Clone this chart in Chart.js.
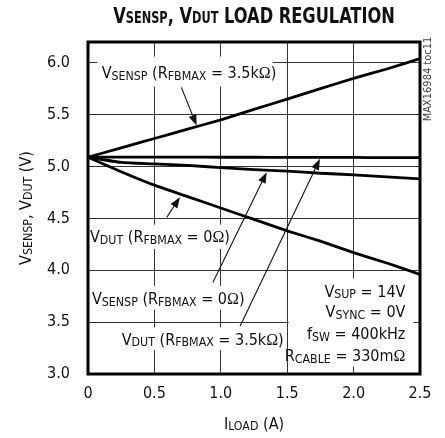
<!DOCTYPE html>
<html>
<head>
<meta charset="utf-8">
<script src="https://cdn.jsdelivr.net/npm/chart.js@4.4.1/dist/chart.umd.min.js"></script>
<style>
body { margin: 0; background: #fff; }
#wrap { width: 445px; height: 438px; }
</style>
</head>
<body>
<div id="wrap"><canvas id="c"></canvas></div>
<script>
// load current (A)
const loadA = [0, 0.25, 0.5, 0.75, 1.0, 1.25, 1.5, 1.75, 2.0, 2.25, 2.5];
// output voltages (V)
const vsenspHigh = [5.09, 5.18, 5.27, 5.36, 5.45, 5.55, 5.65, 5.75, 5.85, 5.94, 6.04];
const vsenspZero = [5.09, 5.09, 5.09, 5.09, 5.089, 5.089, 5.088, 5.088, 5.087, 5.086, 5.085];
const vdutHigh   = [5.09, 5.04, 5.025, 5.01, 4.99, 4.97, 4.955, 4.935, 4.92, 4.90, 4.88];
const vdutZero   = [5.09, 4.95, 4.82, 4.71, 4.60, 4.49, 4.38, 4.28, 4.17, 4.07, 3.96];

const xTicks = [0, 0.5, 1.0, 1.5, 2.0, 2.5];
const yTicks = [3.0, 3.5, 4.0, 4.5, 5.0, 5.5, 6.0];

const conditions = ['V_{SUP} = 14V', 'V_{SYNC} = 0V', 'f_{SW} = 400kHz', 'R_{CABLE} = 330mΩ'];

const FONT = '"Liberation Sans Narrow", "DejaVu Sans Condensed", sans-serif';
const INK = '#111';

// label text, text anchor (A, V), arrow tail -> tip (A, V), white box (A, V)
const notes = [
    { text: 'V_{SENSP} (R_{FBMAX} = 3.5kΩ)', at: [0.103, 5.907], arrow: [0.703, 5.763, 0.818, 5.394], box: [0.07, 5.77, 1.39, 6.06] },
    { text: 'V_{DUT} (R_{FBMAX} = 0Ω)', at: [0.015, 4.327], arrow: [0.593, 4.51, 0.693, 4.705], box: [0.0, 4.205, 1.085, 4.44] },
    { text: 'V_{SENSP} (R_{FBMAX} = 0Ω)', at: [0.03, 3.73], arrow: [0.941, 3.885, 1.346, 4.945], box: [0.0, 3.62, 1.22, 3.85] },
    { text: 'V_{DUT} (R_{FBMAX} = 3.5kΩ)', at: [0.254, 3.337], arrow: [1.145, 3.46, 1.747, 5.074], box: [0.23, 3.23, 1.47, 3.45] },
];

function segments(str) {
    const out = [];
    str.split(/(_\{[^}]*\})/).forEach(s => {
        if (!s) return;
        const sub = s.startsWith('_{');
        const t = sub ? s.slice(2, -1) : s;
        t.split(/(Ω)/).forEach(p => { if (p) out.push({ t: p, sub: sub, serif: p === 'Ω' }); });
    });
    return out;
}

function segFont(seg, size, bold, subScale) {
    const sz = seg.sub ? size * subScale : size;
    return (bold ? 'bold ' : '') + sz.toFixed(1) + 'px ' + (seg.serif ? '"Liberation Serif", serif' : FONT);
}

function drawRich(ctx, str, x, yMid, opt) {
    const size = opt.size || 16, bold = !!opt.bold, sq = opt.squeeze || 1;
    const subScale = opt.subScale || 0.77, drop = opt.drop === undefined ? 1.7 : opt.drop;
    const segs = segments(str);
    let w = 0;
    segs.forEach(s => { ctx.font = segFont(s, size, bold, subScale); s.w = ctx.measureText(s.t).width; w += s.w; });
    let cx = 0;
    if (opt.align === 'center') cx = -w / 2;
    if (opt.align === 'right') cx = -w;
    const base = size * 0.36;
    ctx.save();
    ctx.translate(x, yMid);
    ctx.scale(sq, 1);
    ctx.textAlign = 'left';
    ctx.textBaseline = 'alphabetic';
    ctx.fillStyle = opt.color || INK;
    segs.forEach(s => {
        ctx.font = segFont(s, size, bold, subScale);
        ctx.fillText(s.t, cx, base + (s.sub ? drop : 0));
        cx += s.w;
    });
    ctx.restore();
    return w * sq;
}

function arrow(ctx, x1, y1, x2, y2) {
    const a = Math.atan2(y2 - y1, x2 - x1), len = 11, hw = 4;
    const bx = x2 - len * Math.cos(a), by = y2 - len * Math.sin(a);
    ctx.strokeStyle = INK;
    ctx.lineWidth = 1.1;
    ctx.beginPath();
    ctx.moveTo(x1, y1);
    ctx.lineTo(bx, by);
    ctx.stroke();
    ctx.fillStyle = INK;
    ctx.beginPath();
    ctx.moveTo(x2, y2);
    ctx.lineTo(bx + hw * Math.sin(a), by - hw * Math.cos(a));
    ctx.lineTo(bx - hw * Math.sin(a), by + hw * Math.cos(a));
    ctx.closePath();
    ctx.fill();
}

const notesPlugin = {
    id: 'notes',
    beforeDatasetsDraw(chart) {
        const ctx = chart.ctx, xs = chart.scales.x, ys = chart.scales.y;
        ctx.save();
        ctx.fillStyle = '#fff';
        notes.forEach(n => {
            const x1 = xs.getPixelForValue(n.box[0]), y1 = ys.getPixelForValue(n.box[3]);
            const x2 = xs.getPixelForValue(n.box[2]), y2 = ys.getPixelForValue(n.box[1]);
            ctx.fillRect(x1, y1, x2 - x1, y2 - y1);
        });
        // conditions box
        const bx1 = xs.getPixelForValue(1.51), bx2 = xs.getPixelForValue(2.45);
        const by1 = ys.getPixelForValue(3.92), by2 = ys.getPixelForValue(3.07);
        ctx.fillRect(bx1, by1, bx2 - bx1, by2 - by1);
        ctx.restore();
    },
    afterDatasetsDraw(chart) {
        const ctx = chart.ctx, xs = chart.scales.x, ys = chart.scales.y, a = chart.chartArea;
        ctx.save();
        notes.forEach(n => {
            drawRich(ctx, n.text, xs.getPixelForValue(n.at[0]), ys.getPixelForValue(n.at[1]), { size: 16 });
            arrow(ctx, xs.getPixelForValue(n.arrow[0]), ys.getPixelForValue(n.arrow[1]),
                xs.getPixelForValue(n.arrow[2]), ys.getPixelForValue(n.arrow[3]));
        });
        const rx = xs.getPixelForValue(2.39);
        const condY = [3.80, 3.605, 3.39, 3.18];
        conditions.forEach((c, i) => drawRich(ctx, c, rx, ys.getPixelForValue(condY[i]), { size: 16, align: 'right' }));

        ctx.strokeStyle = '#000';
        ctx.lineWidth = 3;
        ctx.strokeRect(a.left, a.top, a.right - a.left, a.bottom - a.top);
        ctx.restore();
    },
    afterDraw(chart) {
        const ctx = chart.ctx, a = chart.chartArea;
        const cx = (a.left + a.right) / 2;
        ctx.save();
        drawRich(ctx, 'V_{SENSP}, V_{DUT} LOAD REGULATION', cx, 15, { size: 22, bold: true, subScale: 0.7, drop: 0.5, align: 'center', squeeze: 0.82 });
        drawRich(ctx, 'I_{LOAD} (A)', cx, 423, { size: 16, align: 'center' });
        ctx.translate(25, (a.top + a.bottom) / 2);
        ctx.rotate(-Math.PI / 2);
        drawRich(ctx, 'V_{SENSP}, V_{DUT} (V)', 0, 0, { size: 16, align: 'center' });
        ctx.restore();

        ctx.save();
        ctx.translate(428, 79);
        ctx.rotate(-Math.PI / 2);
        ctx.font = '11px ' + FONT;
        ctx.fillStyle = '#444';
        ctx.textAlign = 'center';
        ctx.textBaseline = 'middle';
        ctx.fillText('MAX16984 toc11', 0, 0);
        ctx.restore();
    }
};

function series(ys) {
    return loadA.map((x, i) => ({ x: x, y: ys[i] }));
}

function lineSet(label, ys) {
    return {
        label: label,
        data: series(ys),
        borderColor: '#000',
        borderWidth: 2.8,
        pointRadius: 0,
        tension: 0.2,
        fill: false
    };
}

const tickFont = { family: FONT, size: 16 };

new Chart(document.getElementById('c'), {
    type: 'line',
    data: {
        datasets: [
            lineSet('VSENSP (RFBMAX = 3.5kΩ)', vsenspHigh),
            lineSet('VSENSP (RFBMAX = 0Ω)', vsenspZero),
            lineSet('VDUT (RFBMAX = 3.5kΩ)', vdutHigh),
            lineSet('VDUT (RFBMAX = 0Ω)', vdutZero),
        ]
    },
    options: {
        responsive: true,
        maintainAspectRatio: false,
        animation: false,
        layout: { padding: { top: 42, right: 25, left: 0, bottom: 0 } },
        plugins: {
            legend: { display: false },
            tooltip: { enabled: false }
        },
        scales: {
            x: {
                type: 'linear',
                min: 0,
                max: 2.5,
                afterBuildTicks: s => { s.ticks = xTicks.map(v => ({ value: v })); },
                afterFit: s => { s.height = 64; },
                ticks: {
                    font: tickFont,
                    color: INK,
                    padding: 10,
                    maxRotation: 0,
                    callback: v => v === 0 ? '0' : v.toFixed(1)
                },
                grid: { color: '#333', lineWidth: 1, drawTicks: false },
                border: { display: false }
            },
            y: {
                type: 'linear',
                min: 3.0,
                max: 6.2,
                afterBuildTicks: s => { s.ticks = yTicks.map(v => ({ value: v })); },
                afterFit: s => { s.width = 88; },
                ticks: {
                    font: tickFont,
                    color: INK,
                    padding: 18,
                    callback: v => v.toFixed(1)
                },
                grid: { color: '#333', lineWidth: 1, drawTicks: false },
                border: { display: false }
            }
        }
    },
    plugins: [notesPlugin]
});
</script>
</body>
</html>
